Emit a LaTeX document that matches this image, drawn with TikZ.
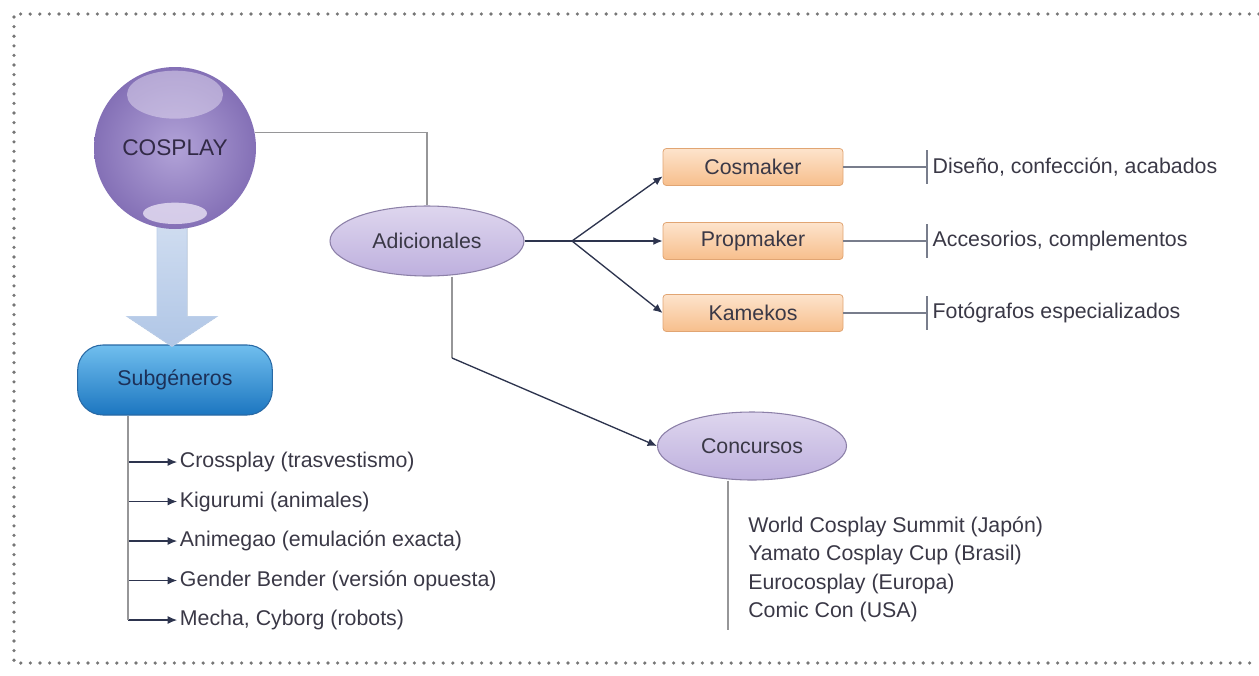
\documentclass[tikz,border=0pt]{standalone}
\usepackage{fontspec}
\setmainfont{Liberation Sans}
\usetikzlibrary{shapes.geometric,arrows.meta,calc}
\definecolor{lineag}{RGB}{150,150,152}
\definecolor{flechac}{RGB}{45,52,78}
\definecolor{texto}{RGB}{58,56,70}
\definecolor{lilac}{RGB}{222,214,238}
\definecolor{lilam}{RGB}{190,176,222}
\definecolor{lilao}{RGB}{150,130,198}
\definecolor{lilab}{RGB}{140,128,168}
\definecolor{bolac}{RGB}{178,163,216}
\definecolor{bolao}{RGB}{132,112,182}
\definecolor{naranjac}{RGB}{253,228,204}
\definecolor{naranjao}{RGB}{247,190,140}
\definecolor{naranjab}{RGB}{225,165,115}
\definecolor{azulc}{RGB}{112,190,238}
\definecolor{azulo}{RGB}{28,118,192}
\definecolor{azulb}{RGB}{40,105,165}
\definecolor{celeste}{RGB}{176,198,230}
\definecolor{puntos}{RGB}{118,118,118}
\tikzset{
  punteado/.style={draw=puntos, line width=2.7pt, line cap=round, dash pattern=on 0pt off 7.2pt},
  bola/.style={circle, minimum size=121.5pt, inner sep=0pt, text={rgb,255:red,50;green,42;blue,70},
    inner color=bolac, outer color=bolao,
    path picture={
      \fill[lilac, opacity=0.55]
        ([yshift=40pt]path picture bounding box.center) ellipse (36pt and 18pt);
      \fill[lilac, opacity=0.9]
        ([yshift=-49pt]path picture bounding box.center) ellipse (24pt and 8pt);
    }},
  elipse/.style={ellipse, draw=lilab, line width=0.8pt, inner sep=0pt,
    top color=lilac, bottom color=lilam, text=texto},
  caja/.style={rectangle, rounded corners=2.5pt, draw=naranjab, line width=0.6pt,
    top color=naranjac, bottom color=naranjao, minimum width=135pt,
    minimum height=27.75pt, inner sep=0pt, text=texto},
  subcaja/.style={rectangle, rounded corners=19pt, draw=azulb, line width=0.8pt,
    top color=azulc, bottom color=azulo, minimum width=146pt,
    minimum height=52.5pt, inner sep=0pt, text={rgb,255:red,28;green,48;blue,88}},
  linea/.style={draw=lineag, line width=1.4pt},
  lineafina/.style={draw={rgb,255:red,120;green,125;blue,140}, line width=0.9pt},
  flecha/.style={draw=flechac, line width=1pt, -{Latex[length=7pt,width=6pt]}},
  desc/.style={anchor=west, inner xsep=4pt, inner ysep=0pt, text=texto},
  item/.style={anchor=west, inner xsep=2pt, inner ysep=0pt, text=texto},
}

\begin{document}
\begin{tikzpicture}[x=0.75pt,y=-0.75pt,font=\fontsize{16}{19}\selectfont]
\useasboundingbox (0,0) rectangle (1259,675);
% marco punteado
\draw[punteado] (1259,14) -- (14,14) -- (14,663) -- (1259,663);

% nodos principales
\node[subcaja] (subgeneros) at (175,380) {Subg\'eneros};
\node[elipse, minimum width=145.5pt, minimum height=52.5pt] (adicionales) at (427,241) {Adicionales};
\node[elipse, minimum width=141.75pt, minimum height=51pt] (concursos) at (752,446) {Concursos};
\node[caja] (cosmaker) at (753,167) {Cosmaker};
\node[caja] (propmaker) at (753,241) {Propmaker};
\node[caja] (kamekos) at (753,313) {Kamekos};

% flecha grande
\coordinate (ftop) at (175,222);
\fill[top color=celeste!60!white, bottom color=celeste, draw=celeste!85!white, line width=0.6pt]
  ($(ftop)+(-18,0)$) -- ($(ftop)+(12,0)$) -- ($(subgeneros.north)+(12,-28)$)
  -- ($(subgeneros.north)+(42,-28)$) -- ($(subgeneros.north)+(-3,2)$)
  -- ($(subgeneros.north)+(-48,-28)$) -- ($(subgeneros.north)+(-18,-28)$) -- cycle;
\node[bola, font=\fontsize{17}{20}\selectfont] (cosplay) at (175,148) {COSPLAY};

% conectores
\draw[linea] (cosplay.11) -| (adicionales.north);
\coordinate (fork) at (572,241);
\draw[flecha, -] (adicionales.east) -- (fork);
\draw[flecha] (fork) -- ([yshift=-7pt]cosmaker.west);
\draw[flecha] (fork) -- (propmaker.west);
\draw[flecha] (fork) -- (kamekos.west);
\coordinate (bend) at (452,358);
\draw[linea] (bend |- adicionales.south) -- (bend);
\draw[flecha] (bend) -- (concursos.west);

% descripciones
\node[desc] (dcos) at (927,167) {Dise\~no, confecci\'on, acabados};
\node[desc] (dprop) at (927,241) {Accesorios, complementos};
\node[desc] (dkam) at (927,313) {Fot\'ografos especializados};
\foreach \c/\d in {cosmaker/dcos, propmaker/dprop, kamekos/dkam} {
  \draw[lineafina] (\c.east) -- (\d.west);
  \draw[lineafina] ([yshift=12.5pt]\d.west) -- ([yshift=-12.5pt]\d.west);
}

% subgeneros
\coordinate (tronco) at (128,620);
\foreach \t [count=\i] in {Crossplay (trasvestismo), Kigurumi (animales),
    Animegao (emulaci\'on exacta), Gender Bender (versi\'on opuesta),
    {Mecha, Cyborg (robots)}} {
  \node[item] (sg\i) at (177,{462+39.5*(\i-1)}) {\t};
  \draw[flecha, line width=0.8pt] (sg\i.west -| tronco) -- (sg\i.west);
}
\draw[linea] (tronco |- subgeneros.south) -- (tronco);

% concursos
\coordinate (cbase) at (728,630);
\draw[linea, line width=1.1pt] (cbase |- concursos.south) -- (cbase);
\foreach \t [count=\i] in {World Cosplay Summit (Jap\'on), Yamato Cosplay Cup (Brasil),
    Eurocosplay (Europa), Comic Con (USA)} {
  \node[item, inner xsep=0pt] (cc\i) at (748,{527+28.3*(\i-1)}) {\t};
}
\end{tikzpicture}
\end{document}
